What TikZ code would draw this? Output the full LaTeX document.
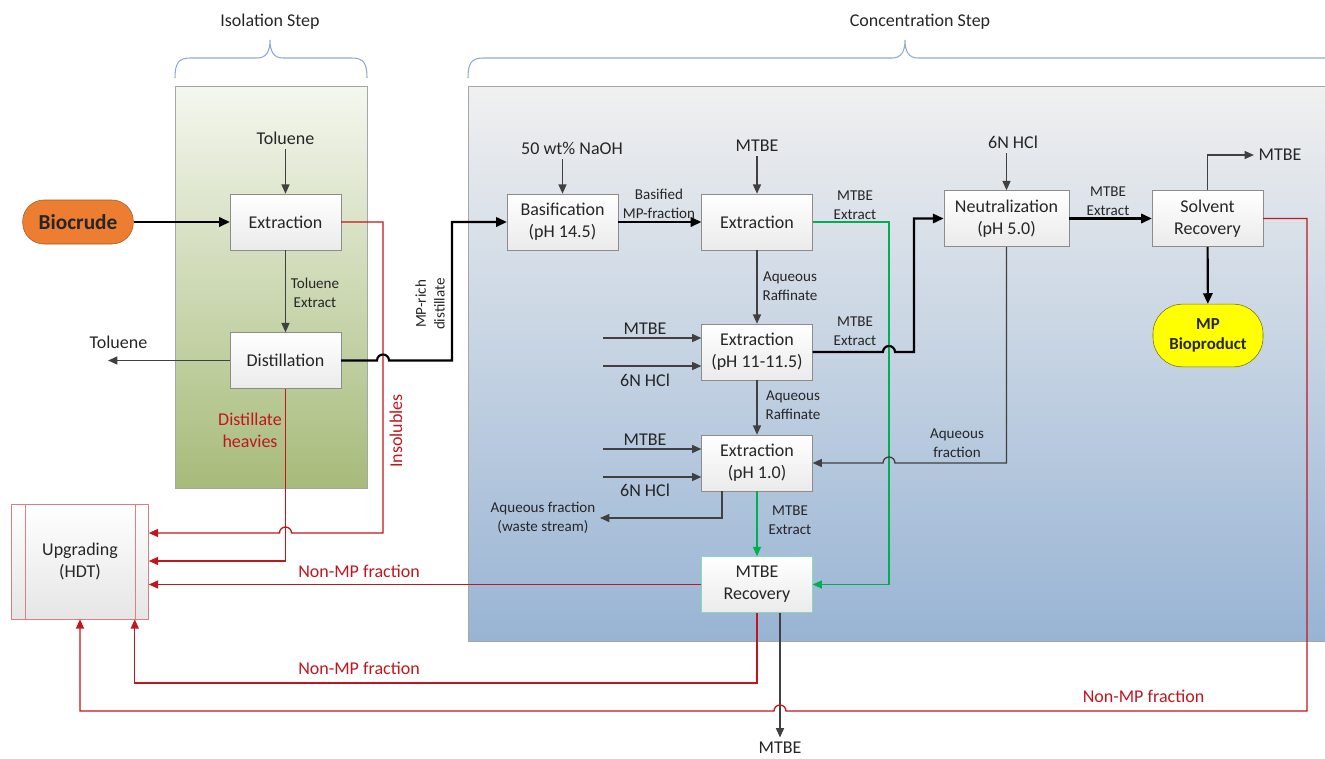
\documentclass[tikz,border=0pt]{standalone}
\usepackage{fontspec}
\setmainfont{Carlito}
\usetikzlibrary{arrows.meta,positioning}

\definecolor{linegray}{HTML}{404040}
\definecolor{wastered}{HTML}{C0171F}
\definecolor{extgreen}{HTML}{00B050}
\definecolor{bracecol}{HTML}{8FAAD6}
\definecolor{bioorange}{HTML}{ED7D31}
\definecolor{mpyellow}{HTML}{FFFF00}
\definecolor{isotop}{HTML}{F4F7EF}
\definecolor{isobot}{HTML}{A7BB7A}
\definecolor{contop}{HTML}{F0F0F0}
\definecolor{conbot}{HTML}{98B4D4}

\begin{document}
\begin{tikzpicture}[
x=0.75pt, y=-0.75pt,
every node/.style={font=\fontsize{13.5}{16.5}\selectfont, text=black!85, align=center},
small/.style={font=\fontsize{11.3}{14}\selectfont},
box/.style={draw=black!45, top color=white, bottom color=black!8,
  minimum width=83pt, minimum height=42pt, inner sep=2pt},
pill/.style={draw, rounded corners=16pt, minimum height=33pt,
  font=\fontsize{16}{19}\selectfont\bfseries},
flow/.style={draw=linegray, line width=1pt, -{Triangle[length=7pt,width=6pt]}},
main/.style={draw=black, line width=1.6pt, -{Triangle[length=8pt,width=7pt]}},
waste/.style={draw=wastered, line width=1pt, -{Triangle[length=7pt,width=6pt]}},
recycle/.style={draw=extgreen, line width=1pt, -{Triangle[length=7pt,width=6pt]}},
brace/.style={draw=bracecol, line width=0.8pt}
]
\useasboundingbox (0,0) rectangle (1325,758);

\shade[top color=isotop, bottom color=isobot, draw=black!35] (175,86) rectangle (367,488);
\shade[top color=contop, bottom color=conbot, draw=black!35] (468,86) rectangle (1340,641);

\node (iso) at (270,22) {Isolation Step};
\node (conc) at (920,22) {Concentration Step};
\draw[brace] (175,78) .. controls (175,64) and (178,58) .. (190,58) -- (257,58)
  .. controls (266,58) and (270,52) .. (270,40) .. controls (270,52) and (274,58) .. (283,58)
  -- (352,58) .. controls (364,58) and (367,64) .. (367,78);
\draw[brace] (468,78) .. controls (468,64) and (471,58) .. (483,58) -- (892,58)
  .. controls (901,58) and (905,52) .. (905,40) .. controls (905,52) and (909,58) .. (918,58)
  -- (1328,58) .. controls (1340,58) and (1343,64) .. (1343,78);

\node[pill, fill=bioorange, draw=bioorange!70!black, minimum width=83pt] (bio) at (78,222) {Biocrude};
\node (tol1) at (285.5,138) {Toluene};
\node[box] (iext) at (285.5,222) {Extraction};
\node[box] (dist) at (285.5,360.5) {Distillation};
\node (tol2) at (118.5,342) {Toluene};
\node[small] (tolext) at (315,293) {Toluene\\Extract};
\node[text=wastered] (heavy) at (250,430) {Distillate\\heavies};
\node[text=wastered, rotate=90] (insol) at (396,431) {Insolubles};
\node[small, rotate=90] (mprich) at (430,304) {MP-rich\\distillate};

\node[draw=wastered!55, top color=white, bottom color=black!10,
  minimum width=102.75pt, minimum height=86.25pt] (upg) at (80,561.5) {Upgrading\\(HDT)};
\draw[wastered!55] ([xshift=10.5pt]upg.north west) -- ([xshift=10.5pt]upg.south west);
\draw[wastered!55] ([xshift=-10.5pt]upg.north east) -- ([xshift=-10.5pt]upg.south east);

\node (naoh) at (572,148) {50 wt\% NaOH};
\node[box] (bas) at (562.5,222) {Basification\\(pH 14.5)};
\node[small] (basmp) at (659,204) {Basified\\MP-fraction};
\node (mtbe1) at (757,146) {MTBE};
\node[box] (ext1) at (757,222) {Extraction};
\node[small] (mext1) at (855,205) {MTBE\\Extract};
\node[small] (raf1) at (790,286) {Aqueous\\Raffinate};
\node[box] (ext2) at (757,352) {Extraction\\(pH 11-11.5)};
\node[small] (mext2) at (855,331) {MTBE\\Extract};
\node (mtbe2) at (645,329) {MTBE};
\node (hcl2) at (645,380) {6N HCl};
\node[small] (raf2) at (793,405) {Aqueous\\Raffinate};
\node[box] (ext3) at (757,463) {Extraction\\(pH 1.0)};
\node (mtbe3) at (645,440) {MTBE};
\node (hcl3) at (645,490) {6N HCl};
\node[small] (waste) at (543,518) {Aqueous fraction\\(waste stream)};
\node[small] (mext3) at (790,520) {MTBE\\Extract};
\node[box, draw=extgreen!45] (mrec) at (757,584.5) {MTBE\\Recovery};
\node (mtbebot) at (780,748) {MTBE};

\node (hcl1) at (1013,142) {6N HCl};
\node[box, minimum width=94pt] (neu) at (1006.5,218.5) {Neutralization\\(pH 5.0)};
\node[small] (mext4) at (1108,201) {MTBE\\Extract};
\node[box] (solv) at (1207.5,218.5) {Solvent\\Recovery};
\node (mtbetop) at (1280,155) {MTBE};
\node[pill, fill=mpyellow, draw=mpyellow!45!black, minimum width=82.5pt, minimum height=47pt,
  rounded corners=22pt, font=\fontsize{12.6}{15}\selectfont\bfseries] (mpb) at (1208,335.5) {MP\\Bioproduct};
\node[small] (aqfr) at (957,443) {Aqueous\\fraction};

\node[text=wastered] (nmp1) at (359,571) {Non-MP fraction};
\node[text=wastered] (nmp2) at (359,668) {Non-MP fraction};
\node[text=wastered] (nmp3) at (1143.5,696) {Non-MP fraction};

\draw[main] (bio) -- (iext);
\draw[flow] (tol1) -- (iext);
\draw[flow] (iext) -- (dist);
\draw[flow] (dist.west) -- (dist.west -| 108,0);
\draw[waste] (iext.east) -- (383,222) -- (383,533) -- (291.5,533)
  arc[start angle=0, end angle=-180, radius=6] -- (upg.east |- 0,533);
\draw[waste] (dist.south) -- (dist.south |- 0,561) -- (upg.east |- 0,561);
\draw[main] (dist.east) -- (377,360.5) arc[start angle=180, end angle=360, radius=6]
  -- (452,360.5) |- (bas.west);

\draw[flow] (bas.north |- naoh.south) -- (bas.north);
\draw[main] (bas) -- (ext1);
\draw[flow] (mtbe1) -- (ext1);
\draw[flow] (ext1) -- (ext2);
\draw[flow] (603,338) -- (ext2.west |- 0,338);
\draw[flow] (603,366) -- (ext2.west |- 0,366);
\draw[flow] (ext2) -- (ext3);
\draw[flow] (603,449) -- (ext3.west |- 0,449);
\draw[flow] (603,477) -- (ext3.west |- 0,477);
\draw[flow] ([xshift=-26.25pt]ext3.south) |- (waste.east);
\draw[recycle] (ext3) -- (mrec);
\draw[recycle] (ext1.east) -- (889,222) |- (mrec.east);
\draw[main] (ext2.east) -- (883,352) arc[start angle=180, end angle=360, radius=6]
  -- (914,352) |- (neu.west);

\draw[flow] (hcl1.south -| neu.north) -- (neu.north);
\draw[main] (neu) -- (solv);
\draw[flow] (solv.north) |- (mtbetop.west);
\draw[main] (solv) -- (mpb);
\draw[flow] (neu.south) |- (895,463) arc[start angle=0, end angle=-180, radius=6] -- (ext3.east);

\draw[waste] (mrec.west) -- (upg.east |- mrec.west);
\draw[waste] (mrec.south) -- (mrec.south |- 0,683) -| ([xshift=-10.5pt]upg.south east);
\draw[flow] (mtbebot.north |- mrec.south) -- (mtbebot.north);
\draw[waste] (solv.east) -- (1307,218.5) -- (1307,711) -- (786,711)
  arc[start angle=0, end angle=-180, radius=6] -- (upg.south |- 0,711) -- (upg.south);
\end{tikzpicture}
\end{document}
